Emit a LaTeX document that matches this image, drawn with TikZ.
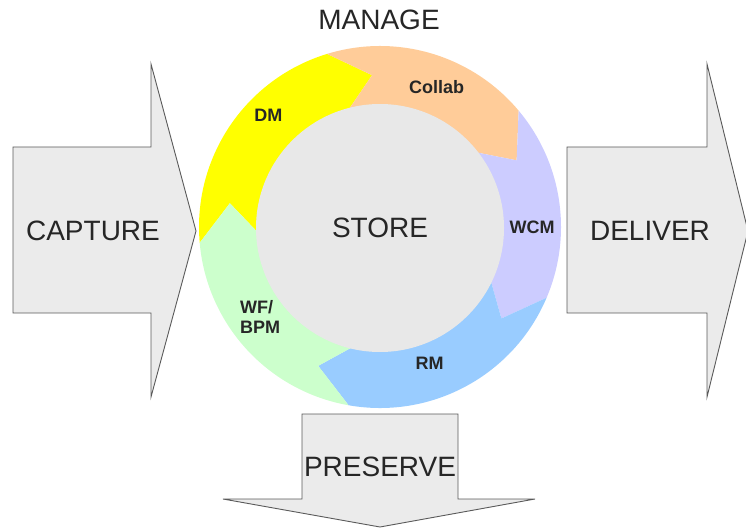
\documentclass[tikz,border=0pt]{standalone}
\usepackage{fontspec}
\setmainfont{Liberation Sans}
\usetikzlibrary{positioning}

\definecolor{dmyellow}{HTML}{FFFF00}
\definecolor{collaborange}{HTML}{FFCC99}
\definecolor{wcmpurple}{HTML}{CCCCFF}
\definecolor{rmblue}{HTML}{99CCFF}
\definecolor{wfgreen}{HTML}{CCFFCC}
\definecolor{stagegray}{HTML}{EBEBEB}
\definecolor{storegray}{HTML}{E8E8E8}
\definecolor{edgegray}{HTML}{5A5A5A}

\begin{document}
\begin{tikzpicture}[x=1pt, y=1pt,
    stage/.style={draw=edgegray, fill=stagegray, line width=0.9pt, line join=miter},
    biglabel/.style={inner sep=0pt, font=\fontsize{28}{30}\selectfont, text=black!85},
    seglabel/.style={inner sep=0pt, font=\bfseries\fontsize{18}{20}\selectfont, align=left, text=black!85},
    ]
    \useasboundingbox (0,0) rectangle (746,528);

    % Capture arrow (left)
    \draw[stage] (13,215) -- (13,381) -- (151,381) -- (151,464) -- (196,297)
        -- (151,131) -- (151,215) -- cycle;
    \node[biglabel] (capture) at (93,297) {CAPTURE};

    % Deliver arrow (right)
    \draw[stage] (567,215) -- (567,381) -- (707,381) -- (707,464) -- (748,297)
        -- (707,131) -- (707,215) -- cycle;
    \node[biglabel] (deliver) at (650,297) {DELIVER};

    % Preserve arrow (bottom)
    \draw[stage] (302,114) -- (458,114) -- (458,29) -- (535,29) -- (380,1)
        -- (223,29) -- (302,29) -- cycle;
    \node[biglabel] (preserve) at (380,61) {PRESERVE};

    % Manage ring: five arrow segments running clockwise
    \begin{scope}[shift={(380,301)}]
        \foreach \from/\to/\col/\ang/\rad/\name/\txt
            [evaluate=\to as \tip using \to-14, evaluate=\from as \notch using \from-14] in {
                185/107/dmyellow/135/158/dm/DM,
                107/40/collaborange/68/151/collab/Collab,
                40/-23/wcmpurple/0/152/wcm/WCM,
                -23/-100/rmblue/-70/145/rm/RM,
                260/185/wfgreen/217/150/wfbpm/{WF/\\BPM}} {
            \fill[\col] (\from:181pt) arc[start angle=\from, end angle=\to, radius=181pt]
                -- (\tip:152pt) -- (\to:118pt) arc[start angle=\to, end angle=\from, radius=118pt]
                -- (\notch:152pt) -- cycle;
            \node[seglabel] (\name) at (\ang:\rad pt) {\txt};
        }

        % Store (centre)
        \node[circle, fill=storegray, minimum size=248pt, inner sep=0pt,
              font=\fontsize{28}{30}\selectfont, text=black!85] (store) at (0,-1) {STORE};
    \end{scope}

    % Manage label (above ring)
    \node[biglabel] (manage) at (379,508) {MANAGE};
\end{tikzpicture}
\end{document}
